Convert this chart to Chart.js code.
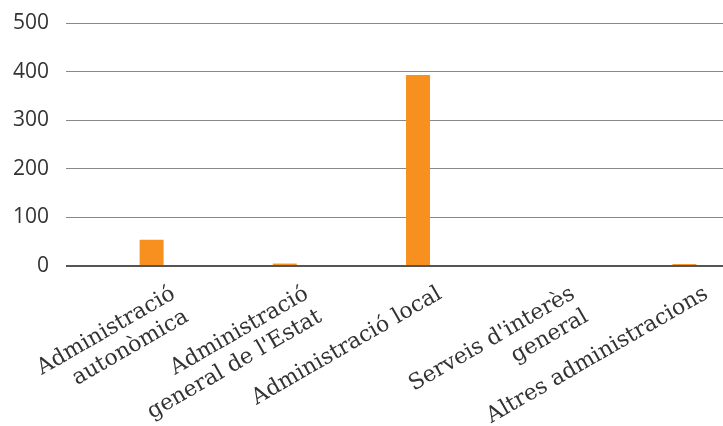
<!DOCTYPE html>
<html>
<head>
<meta charset="utf-8">
<script src="https://cdn.jsdelivr.net/npm/chart.js@4"></script>
<style>
  body { margin: 0; background: #fff; }
  .chart-container { width: 723px; height: 426px; overflow: hidden; }
</style>
</head>
<body>
<div class="chart-container">
  <canvas id="barChart" width="751" height="426"></canvas>
</div>
<script>
// Categories and values
const categories = [
  ['Administració', 'autonòmica'],
  ['Administració', 'general de l\'Estat'],
  'Administració local',
  ['Serveis d\'interès', 'general'],
  'Altres administracions'
];
const values = [54, 5, 393, 2, 4];
const yTicks = [0, 100, 200, 300, 400, 500];

const ctx = document.getElementById('barChart').getContext('2d');

const myChart = new Chart(ctx, {
  type: 'bar',
  data: {
    labels: categories,
    datasets: [{
      data: values,
      backgroundColor: '#F7901E',
      borderWidth: 0,
      barPercentage: 0.18,
      categoryPercentage: 1
    }]
  },
  options: {
    responsive: false,
    animation: false,
    layout: { padding: { top: 23, right: 0, left: 0, bottom: 0 } },
    plugins: {
      legend: { display: false },
      tooltip: { enabled: false }
    },
    scales: {
      x: {
        grid: { display: false, drawTicks: false },
        border: { display: false },
        // fixed label band, and don't let the rotated labels push the plot area
        afterFit: scale => {
          scale.height = 160;
          scale.paddingLeft = 0;
          scale.paddingRight = 0;
        },
        ticks: {
          minRotation: 30,
          maxRotation: 30,
          color: '#333',
          padding: 15,
          labelOffset: 22,
          font: { family: 'DejaVu Serif', size: 22 }
        }
      },
      y: {
        min: 0,
        max: 500,
        afterBuildTicks: axis => { axis.ticks = yTicks.map(v => ({ value: v })); },
        afterFit: scale => {
          scale.width = 85;
          scale.paddingTop = 0;
          scale.paddingBottom = 0;
        },
        grid: {
          color: c => c.tick && c.tick.value === 0 ? '#555' : '#888',
          lineWidth: c => c.tick && c.tick.value === 0 ? 2 : 1,
          tickLength: 19
        },
        border: { display: false },
        ticks: {
          color: '#333',
          padding: 17,
          font: { family: 'Open Sans', size: 21 }
        }
      }
    }
  }
});
</script>
</body>
</html>
